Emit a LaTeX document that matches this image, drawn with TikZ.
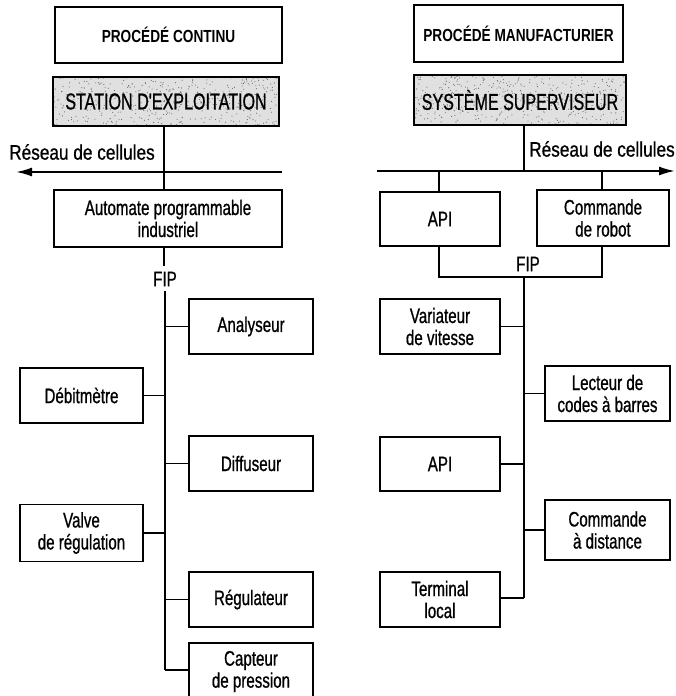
\documentclass[tikz,border=0pt]{standalone}
\usepackage{fontspec}
\setmainfont{Liberation Sans}[FakeStretch=0.72,FakeBold=0.8]
\newfontfamily\netfont{Liberation Sans}[FakeStretch=0.82,FakeBold=0.8]
\newfontfamily\headfont{Liberation Sans}[FakeStretch=0.78]
\newfontfamily\stfont{Liberation Sans}[FakeStretch=0.7,FakeBold=0.8]
\usetikzlibrary{arrows.meta,calc,backgrounds}
\begin{document}
\begin{tikzpicture}[x=1pt,y=-1pt,
  box/.style n args={2}{draw,line width=1.3pt,inner sep=0pt,align=center,
    minimum width=#1pt,minimum height=#2pt,
    font=\fontsize{21}{22}\selectfont},
  head/.style={font=\fontsize{17.5}{20}\headfont\bfseries},
  shade/.style={font=\fontsize{23}{26}\stfont},
  speck/.style={fill=black!60},
  bus/.style={line width=2.3pt},
  link/.style={line width=1.9pt},
  net/.style={line width=1.9pt,-{Latex[length=16pt,width=9pt]}},
  lbl/.style={inner sep=0pt,font=\fontsize{21}{22}\selectfont}
]
\useasboundingbox (0,0) rectangle (675,696);

% ---------------- left side ----------------
\node[box={227}{56},head] (pc) at (168.5,35) {PROCÉDÉ CONTINU};
\node[box={226}{49},shade] (st) at (166,101.5) {STATION D'EXPLOITATION};
\node[box={228}{57}] (ap) at (168,218.5) {Automate programmable\\industriel};

\node[box={124}{55}] (an) at (251,326.5) {Analyseur};
\node[box={123}{55}] (de) at (81.5,395.5) {Débitmètre};
\node[box={124}{55}] (di) at (251,463.5) {Diffuseur};
\node[box={123}{57}] (va) at (81.5,533) {Valve\\de régulation};
\node[box={124}{55}] (re) at (251,599.5) {Régulateur};
\node[box={124}{57}] (ca) at (251,671.5) {Capteur\\de pression};

\coordinate (netLa) at (282,172);
\coordinate (netLb) at (16,172);
\draw[net] (netLa) -- (netLb);
\node[lbl,font=\fontsize{21}{24}\netfont] (rl) at (82,152) {Réseau de cellules};

\coordinate (stb) at (164,126);
\coordinate (apt) at (164,190);
\draw[link] (stb) -- (apt);

\coordinate (apb) at (164,247);
\coordinate (fipa) at (164,266);
\draw[bus] (apb) -- (fipa);
\node[lbl] (fipL) at (165,279) {FIP};
\coordinate (busLt) at (165,291);
\coordinate (busLb) at (165,670);
\draw[bus] (busLt) -- (busLb);

\draw[link] (an.west) -- (an.west -| busLt);
\draw[link] (de.east) -- (de.east -| busLt);
\draw[link] (di.west) -- (di.west -| busLt);
\draw[link] (va.east) -- (va.east -| busLt);
\draw[link] (re.west) -- (re.west -| busLt);
\draw[link] (busLb) -- (busLb -| ca.west);

% ---------------- right side ----------------
\node[box={209}{57},head] (pm) at (518.5,33.5) {PROCÉDÉ MANUFACTURIER};
\node[box={212}{50},shade] (ss) at (520,100) {SYSTÈME SUPERVISEUR};

\node[box={120}{54}] (a1) at (440,219) {API};
\node[box={132}{56}] (cr) at (603,218) {Commande\\de robot};

\node[box={120}{55}] (vv) at (440,326.5) {Variateur\\de vitesse};
\node[box={125}{55}] (lc) at (607.5,393.5) {Lecteur de\\codes à barres};
\node[box={120}{54}] (a2) at (440,464) {API};
\node[box={125}{60}] (cd) at (607.5,530) {Commande\\à distance};
\node[box={120}{55}] (tl) at (440,599.5) {Terminal\\local};

\coordinate (netRa) at (377,171);
\coordinate (netRb) at (675,171);
\draw[net] (netRa) -- (netRb);
\node[lbl,font=\fontsize{21}{24}\netfont] (rr) at (602,149) {Réseau de cellules};

\coordinate (ssb) at (524,125);
\draw[link] (ssb) -- (ssb |- netRa);
\coordinate (c1) at (439,171);
\coordinate (c2) at (602,171);
\draw[link] (c1) -- (c1 |- a1.north);
\draw[link] (c2) -- (c2 |- cr.north);

\coordinate (l1) at (439,277);
\coordinate (l2) at (602,277);
\draw[bus] (l1 |- a1.south) -- (l1) -- (l2) -- (l2 |- cr.south);
\node[lbl] (fipR) at (528,264) {FIP};

\coordinate (busRt) at (524,277);
\coordinate (busRb) at (524,598);
\draw[bus] (busRt) -- (busRb);

\draw[link] (vv.east) -- (vv.east -| busRt);
\draw[link] (lc.west) -- (lc.west -| busRt);
\draw[link] (a2.east) -- (a2.east -| busRt);
\draw[link] (cd.west) -- (cd.west -| busRt);
\draw[link] (busRb -| tl.east) -- (busRb);

% ---------------- stippled shading ----------------
\begin{pgfonlayer}{background}
  \fill[black!12] (st.north west) rectangle (st.south east);
  \fill[black!12] (ss.north west) rectangle (ss.south east);
  \pgfmathsetseed{11}
  \foreach \i in {1,...,450}{
    \fill[speck] ($(st.north west)+(rnd*226,rnd*49)$) circle (0.55pt);
    \fill[speck] ($(ss.north west)+(rnd*212,rnd*50)$) circle (0.55pt);
  }
\end{pgfonlayer}
\end{tikzpicture}
\end{document}
